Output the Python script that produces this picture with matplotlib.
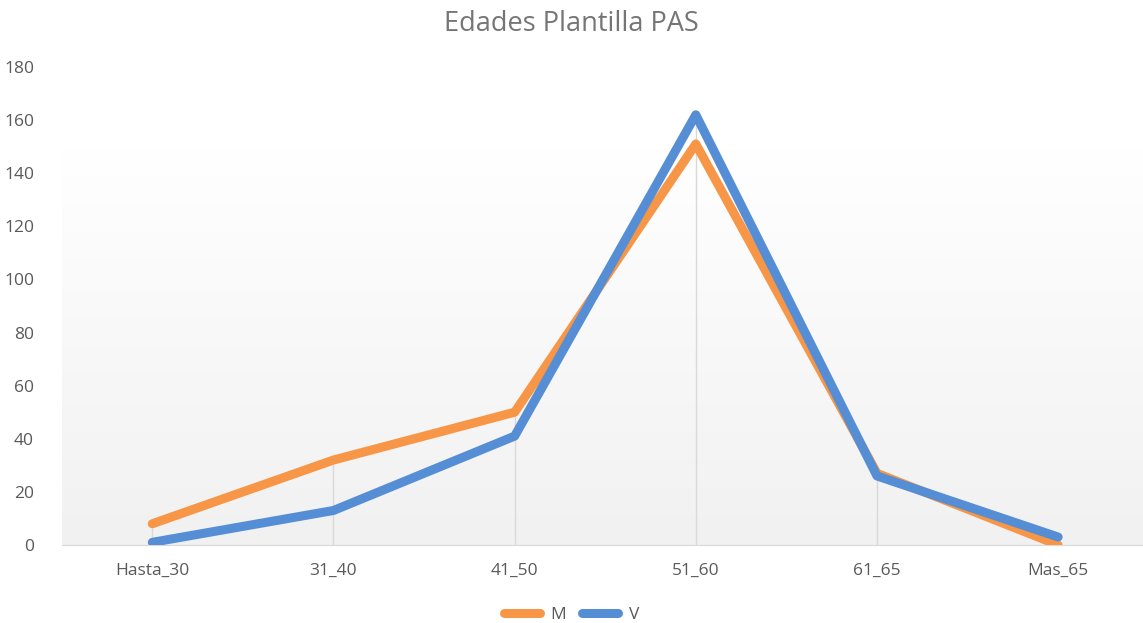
import numpy as np
import matplotlib
matplotlib.use("Agg")
import matplotlib.pyplot as plt

categories = ["Hasta_30", "31_40", "41_50", "51_60", "61_65", "Mas_65"]
m_vals = [8, 32, 50, 151, 27, 0]
v_vals = [1, 13, 41, 162, 26, 3]

plt.rcParams['font.family'] = ['Open Sans', 'DejaVu Sans']

fig = plt.figure(figsize=(11.43, 6.23), dpi=100)
ax = fig.add_axes([0.054, 0.1252, 0.951, 0.7673])

x = np.arange(len(categories))

# gradient background (white -> light gray), lower part of plot area
grad = np.linspace(1.0, 0.945, 256).reshape(-1, 1)
ax.imshow(np.dstack([grad, grad, grad]), extent=(0, 1, 0, 0.83),
          transform=ax.transAxes, aspect='auto', origin='upper', zorder=0)

# drop lines
tops = np.maximum(m_vals, v_vals)
ax.vlines(x, 0, tops, color='#d9d9d9', lw=1, zorder=1)

ax.plot(x, m_vals, color='#F79646', lw=6.5, solid_capstyle='round',
        solid_joinstyle='round', label='M', zorder=3)
ax.plot(x, v_vals, color='#558ED5', lw=6.5, solid_capstyle='round',
        solid_joinstyle='round', label='V', zorder=4)

ax.set_xlim(-0.5, 5.5)
ax.set_ylim(0, 180)
ax.set_yticks(range(0, 181, 20))
ax.set_xticks(x)
ax.set_xticklabels(categories)
ax.tick_params(axis='both', length=0, colors='#595959', labelsize=12.5)
ax.tick_params(axis='x', pad=13)
ax.tick_params(axis='y', pad=20)
for s in ['top', 'right', 'left']:
    ax.spines[s].set_visible(False)
ax.spines['bottom'].set_color('#d9d9d9')

fig.text(0.5, 0.962, "Edades Plantilla PAS", ha='center', va='center',
         fontsize=19.5, color='#757575')

fig.legend(loc='center', bbox_to_anchor=(0.5, 0.013), ncol=2, frameon=False,
           fontsize=12.5, handlelength=2.1, columnspacing=0.9, handletextpad=0.6,
           labelcolor='#595959')

fig.savefig("out.png", dpi=100)
